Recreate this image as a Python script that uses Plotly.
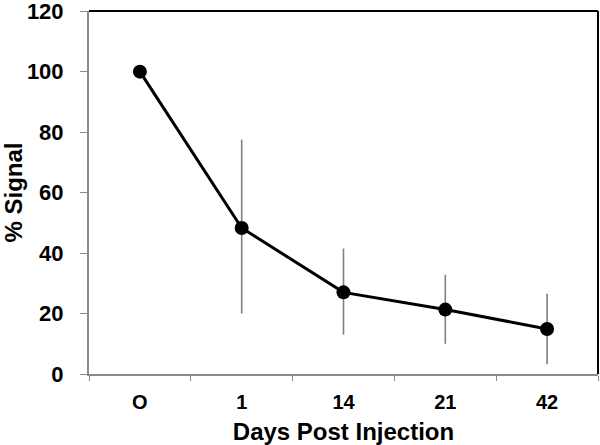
import plotly.graph_objects as go

days = ["O", "1", "14", "21", "42"]
signal = [100, 48.3, 27.0, 21.3, 14.9]
err_plus = [0, 29.2, 14.5, 11.5, 11.6]
err_minus = [0, 28.3, 14.0, 11.3, 11.7]
y_ticks = [0, 20, 40, 60, 80, 100, 120]

FONT = "Liberation Sans, Arial, sans-serif"

fig = go.Figure()
fig.add_trace(go.Scatter(
    x=days, y=signal, mode="lines+markers",
    line=dict(color="black", width=3),
    marker=dict(color="black", size=14),
    error_y=dict(type="data", symmetric=False, array=err_plus, arrayminus=err_minus,
                 color="#808080", thickness=1.6, width=0),
    showlegend=False,
))

fig.update_layout(
    width=600, height=445,
    margin=dict(l=89, r=2, t=11, b=71),
    plot_bgcolor="white", paper_bgcolor="white",
    font=dict(family=FONT, color="black"),
    xaxis=dict(
        type="category", range=[-0.5, 4.5], automargin=False,
        showgrid=False, zeroline=False,
        showline=True, linecolor="#8a8a8a", linewidth=2,
        ticks="outside", tickson="boundaries", ticklen=5, tickcolor="#8a8a8a", tickwidth=1,
        ticklabelstandoff=9,
        tickfont=dict(size=20, family=FONT, weight="bold"),
        title=dict(text="<b>Days Post Injection</b>", font=dict(size=24, family=FONT), standoff=11),
    ),
    yaxis=dict(
        range=[0, 120.05], tickvals=y_ticks, automargin=False,
        ticklabeloverflow="allow",
        showgrid=False, zeroline=False,
        showline=True, linecolor="#8a8a8a", linewidth=2,
        ticks="outside", ticklen=7, tickcolor="#8a8a8a", tickwidth=1,
        ticklabelstandoff=12,
        tickfont=dict(size=22, family=FONT, weight="bold"),
        title=dict(text="<b>% Signal</b>", font=dict(size=24, family=FONT), standoff=6),
    ),
    shapes=[
        dict(type="line", xref="paper", yref="paper", x0=0, x1=1, y0=1, y1=1,
             line=dict(color="black", width=2)),
        dict(type="line", xref="paper", yref="paper", x0=1, x1=1, y0=0, y1=1,
             line=dict(color="black", width=2)),
    ],
)

fig.write_html("out.html", config={"displayModeBar": False},
               post_script="document.body.style.margin='0';")
